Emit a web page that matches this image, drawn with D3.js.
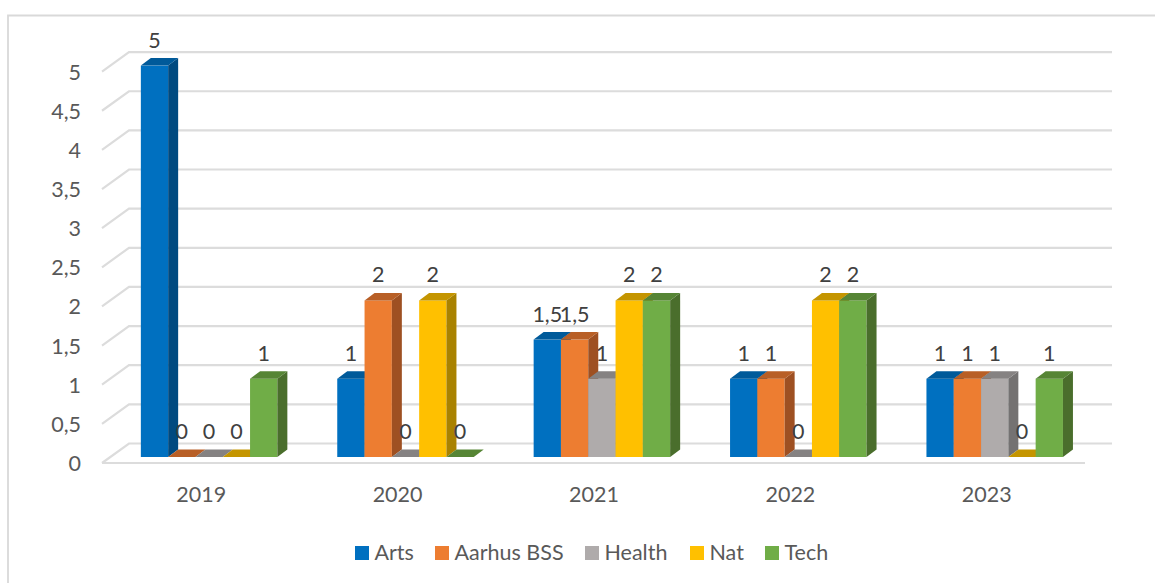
<!DOCTYPE html>
<html>
<head>
<meta charset="utf-8">
<script src="https://d3js.org/d3.v7.min.js"></script>
<style>
  html, body { margin: 0; padding: 0; background: #fff; }
  svg { display: block; font-family: Lato, sans-serif; }
</style>
</head>
<body>
<svg id="chart" width="1155" height="583"></svg>
<script>
const years = ["2019", "2020", "2021", "2022", "2023"];
const seriesNames = ["Arts", "Aarhus BSS", "Health", "Nat", "Tech"];
const arts = [5, 1, 1.5, 1, 1];
const aarhusBss = [0, 2, 1.5, 1, 1];
const health = [0, 0, 1, 0, 1];
const nat = [0, 2, 2, 2, 0];
const tech = [1, 0, 2, 2, 1];
const seriesValues = [arts, aarhusBss, health, nat, tech];
const yTicks = [0, 0.5, 1, 1.5, 2, 2.5, 3, 3.5, 4, 4.5, 5];

const frontColors = ["#0070c0", "#ed7d31", "#afabab", "#ffc000", "#70ad47"];
const topColors = ["#005a9a", "#b85f26", "#858282", "#c49500", "#568535"];
const sideColors = ["#004a80", "#9e5022", "#747272", "#a98200", "#4a6e2c"];

const fmt = v => String(v).replace(".", ",");

const svg = d3.select("#chart");

// frame, only left and top show in the crop
svg.append("path")
    .attr("d", "M8,583V15.5H1155")
    .attr("fill", "none")
    .attr("stroke", "#d9d9d9")
    .attr("stroke-width", 1.8);

const depthX = 10, depthY = 7.5;

const y = d3.scaleLinear().domain([0, 5]).range([457, 65.6]);
const x0 = d3.scaleBand().domain(years).range([103, 1085]);
const x1 = d3.scaleBand().domain(seriesNames).range([0, 136.5]);
const groupOffset = (x0.bandwidth() - 136.5) / 2 + 7.9;
const barX = (i, j) => x0(years[i]) + groupOffset + x1(seriesNames[j]);

// walls and floor lines
const grid = svg.append("g")
    .attr("fill", "none")
    .attr("stroke", "#dcdcdc")
    .attr("stroke-width", 2.2);

grid.selectAll("path.tick")
    .data(yTicks)
    .join("path")
    .attr("class", "tick")
    .attr("d", d => `M102,${y(d) + 6}L129,${y(d) - 13.5}H1112`);

grid.append("path")
    .attr("d", `M102,${y(0) + 6}H1085`);

// y axis labels
svg.append("g")
    .attr("fill", "#595959")
    .attr("font-size", 21.5)
    .attr("text-anchor", "end")
    .selectAll("text")
    .data(yTicks)
    .join("text")
    .attr("x", 81)
    .attr("y", d => y(d) + 14)
    .text(fmt);

// category labels
svg.append("g")
    .attr("fill", "#595959")
    .attr("font-size", 21.5)
    .attr("text-anchor", "middle")
    .selectAll("text")
    .data(years)
    .join("text")
    .attr("x", d => x0(d) + x0.bandwidth() / 2)
    .attr("y", 502)
    .text(d => d);

// bars, drawn left to right so that each one overlaps the side of the one before
const bars = svg.append("g");
years.forEach((year, i) => {
    seriesNames.forEach((name, j) => {
        const v = seriesValues[j][i];
        const left = barX(i, j);
        const right = left + x1.bandwidth();
        const topY = y(v);
        const base = y(0);
        const g = bars.append("g");
        if (v > 0) {
            g.append("rect")
                .attr("x", left)
                .attr("y", topY)
                .attr("width", right - left)
                .attr("height", base - topY)
                .attr("fill", frontColors[j]);
            g.append("path")
                .attr("d", `M${right},${topY}L${right + depthX},${topY - depthY}V${base - depthY}L${right},${base}Z`)
                .attr("fill", sideColors[j]);
        }
        g.append("path")
            .attr("d", `M${left},${topY}L${left + depthX},${topY - depthY}H${right + depthX}L${right},${topY}Z`)
            .attr("fill", topColors[j]);
    });
});

// data labels
const labels = svg.append("g")
    .attr("fill", "#404040")
    .attr("font-size", 21.5)
    .attr("text-anchor", "middle");
years.forEach((year, i) => {
    seriesNames.forEach((name, j) => {
        const v = seriesValues[j][i];
        labels.append("text")
            .attr("x", barX(i, j) + x1.bandwidth() / 2)
            .attr("y", y(v) - 18)
            .text(fmt(v));
    });
});

// legend
const legendX = [355, 435, 585, 690, 765];
const legend = svg.append("g");
seriesNames.forEach((name, j) => {
    const g = legend.append("g").attr("transform", `translate(${legendX[j]},546)`);
    g.append("rect")
        .attr("width", 14)
        .attr("height", 14)
        .attr("fill", frontColors[j]);
    g.append("text")
        .attr("x", 19.5)
        .attr("y", 14)
        .attr("font-size", 21.5)
        .attr("fill", "#595959")
        .text(name);
});
</script>
</body>
</html>
